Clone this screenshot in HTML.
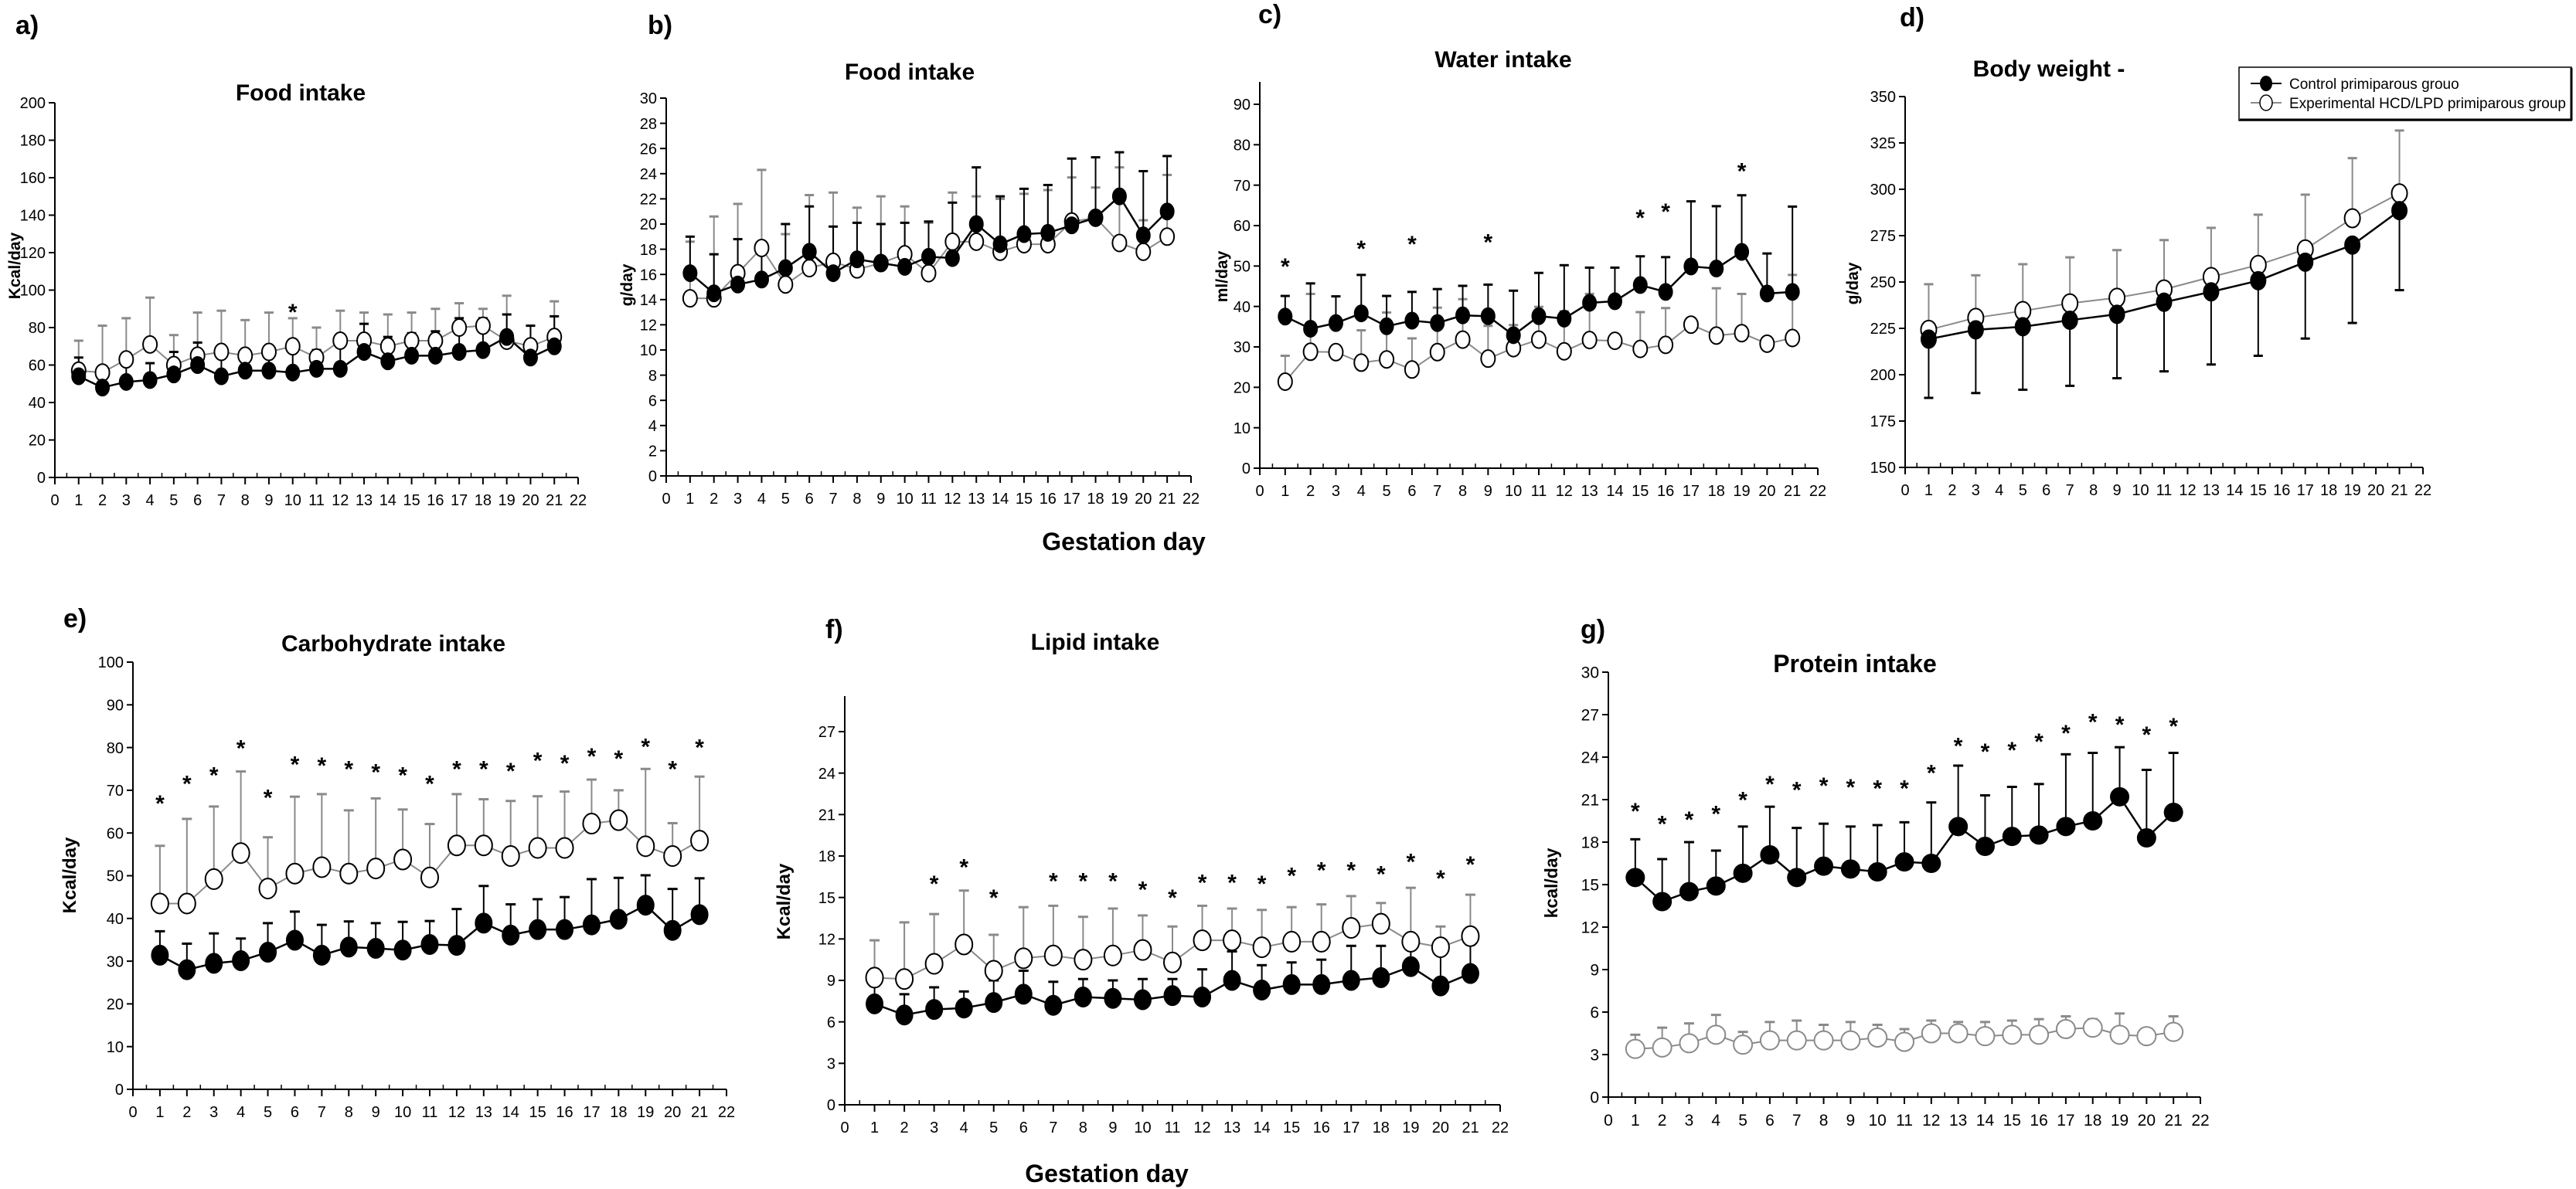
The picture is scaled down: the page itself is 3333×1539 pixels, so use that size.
<!DOCTYPE html>
<html><head><meta charset="utf-8"><title>Gestation intake charts</title>
<style>
html,body{margin:0;padding:0;background:#fff;}
svg{display:block;}
text{font-family:"Liberation Sans Narrow","Liberation Sans",sans-serif;fill:#000;}
.wide{font-family:"Liberation Sans",sans-serif;}
</style></head>
<body>
<svg id="fig" width="3333" height="1539" viewBox="0 0 3333 1539" xmlns="http://www.w3.org/2000/svg"></svg>
<script>
// ---------- data ----------
const days = [1,2,3,4,5,6,7,8,9,10,11,12,13,14,15,16,17,18,19,20,21];
const daysOdd = [1,3,5,7,9,11,13,15,17,19,21];
const xTicks = [0,1,2,3,4,5,6,7,8,9,10,11,12,13,14,15,16,17,18,19,20,21,22];

// a) Food intake kcal
const aTicks = [0,20,40,60,80,100,120,140,160,180,200];
const aCtrl = [54,48,51,52,55,60,54,57,57,56,58,58,67,62,65,65,67,68,75,64,70];
const aCtrlErr = [64,59,62,61,67,72,67,68,67,68,68,73,82,75,77,78,85,85,87,81,86];
const aExp = [57,56,63,71,60,65,67,65,67,70,64,73,73,70,73,73,80,81,73,70,75];
const aExpErr = [73,81,85,96,76,88,89,84,88,85,80,89,88,87,88,90,93,90,97,81,94];
const aStarDays = [10];
const aStarY = [90];

// b) Food intake g
const bTicks = [0,2,4,6,8,10,12,14,16,18,20,22,24,26,28,30];
const bCtrl = [16.1,14.5,15.2,15.6,16.5,17.8,16.1,17.2,16.9,16.6,17.4,17.3,20,18.4,19.2,19.3,19.9,20.5,22.2,19.1,21];
const bCtrlErr = [19,17.6,18.8,18.1,20,21.4,19.8,20.1,20,20.1,20.2,21.7,24.5,22.2,22.8,23.1,25.2,25.3,25.7,24.2,25.4];
const bExp = [14.1,14.1,16.1,18.1,15.2,16.5,17,16.4,16.9,17.6,16.1,18.6,18.6,17.8,18.4,18.4,20.2,20.5,18.5,17.8,19];
const bExpErr = [18.6,20.6,21.6,24.3,19.2,22.3,22.5,21.3,22.2,21.4,20.1,22.5,22.2,22,22.4,22.7,23.7,22.9,24.5,20.3,23.9];

// c) Water intake
const cTicks = [0,10,20,30,40,50,60,70,80,90];
const cCtrl = [37.5,34.5,35.9,38.3,35.1,36.5,35.9,37.8,37.6,32.9,37.6,37,40.9,41.3,45.3,43.6,49.9,49.4,53.5,43.2,43.6];
const cCtrlErr = [42.6,45.7,42.5,47.8,42.6,43.6,44.3,45.1,45.4,43.9,48.3,50.2,49.6,49.6,52.4,52.2,66,64.8,67.5,53.1,64.7];
const cExp = [21.4,28.8,28.7,26.1,26.9,24.4,28.7,31.8,27.1,29.7,31.8,28.9,31.7,31.5,29.5,30.5,35.5,32.8,33.4,30.8,32.2];
const cExpErr = [27.8,43.1,28.7,34.1,38.5,32.1,39.7,41.8,35.2,35.4,39.9,38.8,43.1,31.5,38.6,39.6,35.5,44.5,43.1,30.8,47.8];
const cStarDays = [1,4,6,9,15,16,19];
const cStarY = [50.6,55,56.2,56.7,62.7,64.2,74.2];

// d) Body weight
const dTicks = [150,175,200,225,250,275,300,325,350];
const dCtrl = [219.2,224.2,225.9,229.4,232.6,239.1,244.7,250.7,260.7,269.9,288.5];
const dCtrlErr = [187.5,190.1,191.9,194,198.1,201.8,205.5,210.2,219.5,227.9,245.6];
const dExp = [224.2,230.7,234.4,238.5,241.5,246,252.7,259.2,267.6,284.4,297.8];
const dExpErr = [248.8,253.6,259.6,263.3,267.2,272.6,279.2,286.3,297.1,316.8,331.7];

// e) Carbohydrate intake
const eTicks = [0,10,20,30,40,50,60,70,80,90,100];
const eCtrl = [31.4,28,29.5,30.1,32.1,34.9,31.4,33.3,33,32.6,33.9,33.7,38.9,36.1,37.4,37.4,38.5,39.8,43.1,37.2,40.9];
const eCtrlErr = [37,34.1,36.5,35.3,38.9,41.6,38.5,39.3,38.9,39.2,39.4,42.2,47.6,43.3,44.5,45,49.2,49.5,50.1,46.9,49.4];
const eExp = [43.5,43.5,49.2,55.3,47,50.5,52,50.5,51.7,53.8,49.6,57.1,57.1,54.6,56.5,56.5,62.2,63,56.9,54.6,58.2];
const eExpErr = [57,63.3,66.2,74.4,59,68.5,69.1,65.3,68.1,65.5,62.1,69.1,67.9,67.5,68.6,69.7,72.5,70,75,62.3,73.2];
const eStarDays = [1,2,3,4,5,6,7,8,9,10,11,12,13,14,15,16,17,18,19,20,21];
const eStarY = [67.6,72.2,74.2,80.6,69,76.8,76.5,75.7,75,74.2,72.2,75.7,75.7,75.2,77.7,77,78.7,78.1,80.9,75.7,80.7];

// f) Lipid intake
const fTicks = [0,3,6,9,12,15,18,21,24,27];
const fCtrl = [7.3,6.5,6.9,7,7.4,8,7.2,7.8,7.7,7.6,7.9,7.8,9,8.3,8.7,8.7,9,9.2,10,8.6,9.5];
const fCtrlErr = [8.6,8,8.5,8.2,9,9.7,8.9,9.1,9,9.1,9.1,9.8,11.1,10.1,10.3,10.5,11.5,11.5,11.9,11,11.6];
const fExp = [9.2,9.1,10.2,11.6,9.7,10.6,10.8,10.5,10.8,11.2,10.3,11.9,11.9,11.4,11.8,11.8,12.8,13.1,11.8,11.4,12.2];
const fExpErr = [11.9,13.2,13.8,15.5,12.3,14.3,14.4,13.6,14.2,13.7,12.9,14.4,14.2,14.1,14.3,14.5,15.1,14.6,15.7,12.9,15.2];
const fStarDays = [3,4,5,7,8,9,10,11,12,13,14,15,16,17,18,19,20,21];
const fStarY = [16.2,17.4,15.2,16.4,16.4,16.4,15.8,15.2,16.3,16.3,16.2,16.8,17.2,17.2,16.9,17.8,16.6,17.6];

// g) Protein intake
const gTicks = [0,3,6,9,12,15,18,21,24,27,30];
const gCtrl = [15.5,13.8,14.5,14.9,15.8,17.1,15.5,16.3,16.1,15.9,16.6,16.5,19.1,17.7,18.4,18.5,19.1,19.5,21.2,18.3,20.1];
const gCtrlErr = [18.2,16.8,18,17.4,19.1,20.5,19,19.3,19.1,19.2,19.4,20.8,23.4,21.3,21.9,22.1,24.2,24.3,24.7,23.1,24.3];
const gExp = [3.4,3.5,3.8,4.4,3.7,4,4,4,4,4.2,3.9,4.5,4.5,4.3,4.4,4.4,4.8,4.9,4.4,4.3,4.6];
const gExpErr = [4.4,4.9,5.2,5.8,4.6,5.3,5.4,5.1,5.3,5.1,4.8,5.4,5.3,5.3,5.4,5.5,5.7,5.5,5.9,4.8,5.7];
const gStarDays = [1,2,3,4,5,6,7,8,9,10,11,12,13,14,15,16,17,18,19,20,21];
const gStarY = [20.4,19.5,19.8,20.2,21.2,22.3,21.9,22.2,22.1,22,22,23.1,25,24.6,24.7,25.3,25.9,26.7,26.5,25.8,26.4];

// ---------- drawing ----------
const NS = 'http://www.w3.org/2000/svg';
const svg = document.getElementById('fig');
function mk(tag, attrs, parent){
  const e = document.createElementNS(NS, tag);
  for (const k in attrs) e.setAttribute(k, attrs[k]);
  (parent||svg).appendChild(e);
  return e;
}
function txt(str, x, y, size, parent, extra){
  const t = mk('text', Object.assign({x:x, y:y, 'font-size':size}, extra||{}), parent);
  t.textContent = str;
  return t;
}

function drawPanel(p){
  const g = mk('g', {});
  
  
  const xs = d => p.x0 + (p.x1 - p.x0) * d / 22;
  const ys = v => p.yb + (p.yt - p.yb) * (v - p.vmin) / (p.vmax - p.vmin);
  const cls = p.wide ? 'wide' : '';
  const L = txt(p.letter, p.letterX, p.letterY, 34, g, {'font-weight':'bold', 'class':cls});
  
  
  const T = txt(p.title, p.titleX, p.titleY, p.titleSize, g, {'font-weight':'bold','text-anchor':'middle','class':cls});
  
  
  const Y = txt(p.ylabel, 0, 0, p.ylabelSize, g, {'font-weight':'bold','text-anchor':'middle','class':'wide','transform':'translate('+p.ylabelX+','+p.ylabelY+') rotate(-90)'});
  
  
  const axTop = p.axisTop !== undefined ? p.axisTop : p.yt;
  const ya = mk('line', {x1:p.x0, y1:axTop, x2:p.x0, y2:p.yb, stroke:'#000', 'stroke-width':2}, g);
  
  
  const xa = mk('line', {x1:p.x0, y1:p.yb, x2:p.x1, y2:p.yb, stroke:'#000', 'stroke-width':2}, g);
  
  
  p.yTicks.forEach(v => {
    mk('line', {x1:p.x0-8, y1:ys(v), x2:p.x0, y2:ys(v), stroke:'#000','stroke-width':2}, g);
    const t = txt(String(v), p.x0-12, ys(v)+p.tickSize*0.36, p.tickSize, g, {'text-anchor':'end','class':cls});
    
    
  });
  xTicks.forEach(d => {
    mk('line', {x1:xs(d), y1:p.yb, x2:xs(d), y2:p.yb+9, stroke:'#000','stroke-width':2}, g);
    if (d < 22) mk('line', {x1:xs(d+0.5), y1:p.yb-6, x2:xs(d+0.5), y2:p.yb, stroke:'#000','stroke-width':1.5}, g);
    const t = txt(String(d), xs(d), p.yb + p.tickSize + 16, p.tickSize, g, {'text-anchor':'middle','class':cls});
    
    
  });
  const expCol = '#8a8a8a';
  const expStroke = p.expStroke || '#000';
  const ptsE = p.days.map((d,i) => xs(d)+','+ys(p.exp[i])).join(' ');
  const le = mk('polyline', {points:ptsE, fill:'none', stroke:expCol, 'stroke-width':2}, g);
  
  
  const ptsC = p.days.map((d,i) => xs(d)+','+ys(p.ctrl[i])).join(' ');
  const lc = mk('polyline', {points:ptsC, fill:'none', stroke:'#000', 'stroke-width':2.5}, g);
  
  
  function ebar(d, v, e, col, name){
    const x = xs(d);
    const eb = mk('g', {}, g);
    
    
    mk('line', {x1:x, y1:ys(v), x2:x, y2:ys(e), stroke:col, 'stroke-width':2}, eb);
    mk('line', {x1:x-p.cap/2, y1:ys(e), x2:x+p.cap/2, y2:ys(e), stroke:col, 'stroke-width':3}, eb);
  }
  p.days.forEach((d,i) => ebar(d, p.exp[i], p.expErr[i], p.expBarCol || expCol, p.key + '-experimental-error-bar'));
  p.days.forEach((d,i) => ebar(d, p.ctrl[i], p.ctrlErr[i], '#000', p.key + '-control-error-bar'));
  p.days.forEach((d,i) => {
    const m = mk('ellipse', {cx:xs(d), cy:ys(p.exp[i]), rx:p.rx, ry:p.ry, fill:'#fff', stroke:expStroke, 'stroke-width':2}, g);
    
    
  });
  p.days.forEach((d,i) => {
    const m = mk('ellipse', {cx:xs(d), cy:ys(p.ctrl[i]), rx:p.rx, ry:p.ry, fill:'#000', stroke:'#000', 'stroke-width':1}, g);
    
    
  });
  (p.starDays||[]).forEach((d,i) => {
    const s = txt('*', xs(d), ys(p.starY[i]) + 14, p.starSize || 30, g, {'text-anchor':'middle','class':'wide','font-weight':'bold'});
    
    
  });
}

drawPanel({key:'a', letter:'a)', letterX:20, letterY:44, title:'Food intake', titleX:389, titleY:130, titleSize:30,
  ylabel:'Kcal/day', ylabelX:26, ylabelY:344, ylabelSize:21,
  x0:71, x1:748, yb:618, yt:133, vmin:0, vmax:200, yTicks:aTicks, tickSize:20,
  days:days, ctrl:aCtrl, ctrlErr:aCtrlErr, exp:aExp, expErr:aExpErr, starDays:aStarDays, starY:aStarY,
  rx:9, ry:11, cap:12});
drawPanel({key:'b', letter:'b)', letterX:838, letterY:44, title:'Food intake', titleX:1177, titleY:103, titleSize:30,
  ylabel:'g/day', ylabelX:818, ylabelY:369, ylabelSize:21,
  x0:862, x1:1541, yb:616, yt:127, vmin:0, vmax:30, yTicks:bTicks, tickSize:20,
  days:days, ctrl:bCtrl, ctrlErr:bCtrlErr, exp:bExp, expErr:bExpErr,
  rx:9, ry:11, cap:12});
drawPanel({key:'c', letter:'c)', letterX:1628, letterY:30, title:'Water intake', titleX:1945, titleY:87, titleSize:30,
  ylabel:'ml/day', ylabelX:1588, ylabelY:358, ylabelSize:21,
  x0:1630, x1:2352, yb:606, yt:135, vmin:0, vmax:90, yTicks:cTicks, tickSize:20, axisTop:106,
  days:days, ctrl:cCtrl, ctrlErr:cCtrlErr, exp:cExp, expErr:cExpErr, starDays:cStarDays, starY:cStarY,
  rx:9, ry:11, cap:12});
drawPanel({key:'d', letter:'d)', letterX:2458, letterY:34, title:'Body weight -', titleX:2651, titleY:99, titleSize:30,
  ylabel:'g/day', ylabelX:2404, ylabelY:367, ylabelSize:21,
  x0:2465, x1:3135, yb:605, yt:125, vmin:150, vmax:350, yTicks:dTicks, tickSize:20,
  days:daysOdd, ctrl:dCtrl, ctrlErr:dCtrlErr, exp:dExp, expErr:dExpErr,
  rx:10, ry:12, cap:12});

drawPanel({key:'e', letter:'e)', letterX:82, letterY:812, title:'Carbohydrate intake', titleX:509, titleY:843, titleSize:30,
  ylabel:'Kcal/day', ylabelX:98, ylabelY:1133, ylabelSize:24,
  x0:172, x1:940, yb:1410, yt:857, vmin:0, vmax:100, yTicks:eTicks, tickSize:20,
  days:days, ctrl:eCtrl, ctrlErr:eCtrlErr, exp:eExp, expErr:eExpErr, starDays:eStarDays, starY:eStarY,
  rx:11, ry:13, cap:13});
drawPanel({key:'f', letter:'f)', letterX:1068, letterY:826, title:'Lipid intake', titleX:1417, titleY:841, titleSize:30,
  ylabel:'Kcal/day', ylabelX:1022, ylabelY:1167, ylabelSize:24,
  x0:1093, x1:1941, yb:1430, yt:947, vmin:0, vmax:27, yTicks:fTicks, tickSize:20, axisTop:901,
  days:days, ctrl:fCtrl, ctrlErr:fCtrlErr, exp:fExp, expErr:fExpErr, starDays:fStarDays, starY:fStarY,
  rx:11, ry:13, cap:13});
drawPanel({key:'g', letter:'g)', letterX:2045, letterY:826, title:'Protein intake', titleX:2400, titleY:870, titleSize:32,
  ylabel:'kcal/day', ylabelX:2015, ylabelY:1143, ylabelSize:23, wide:true,
  x0:2081, x1:2847, yb:1420, yt:870, vmin:0, vmax:30, yTicks:gTicks, tickSize:21,
  days:days, ctrl:gCtrl, ctrlErr:gCtrlErr, exp:gExp, expErr:gExpErr, starDays:gStarDays, starY:gStarY,
  rx:12, ry:12, cap:13, expStroke:'#8a8a8a', expBarCol:'#8a8a8a'});

const gx1 = txt('Gestation day', 1454, 712, 32, svg, {'font-weight':'bold','text-anchor':'middle'});


const gx2 = txt('Gestation day', 1432, 1530, 32, svg, {'font-weight':'bold','text-anchor':'middle'});



const lg = mk('g', {});


mk('rect', {x:2897, y:87, width:430, height:69, fill:'#fff', stroke:'#000', 'stroke-width':1.5}, lg);
mk('line', {x1:2898, y1:155, x2:3328, y2:155, stroke:'#000', 'stroke-width':3}, lg);
mk('line', {x1:3327, y1:88, x2:3327, y2:156, stroke:'#000', 'stroke-width':3}, lg);
const le1 = mk('g', {}, lg);


mk('line', {x1:2912, y1:108, x2:2952, y2:108, stroke:'#000', 'stroke-width':2}, le1);
mk('ellipse', {cx:2932, cy:108, rx:8, ry:10, fill:'#000'}, le1);
txt('Control primiparous grouo', 2962, 115, 19, le1);
const le2 = mk('g', {}, lg);


mk('line', {x1:2912, y1:133, x2:2952, y2:133, stroke:'#8a8a8a', 'stroke-width':2}, le2);
mk('ellipse', {cx:2932, cy:133, rx:8, ry:10, fill:'#fff', stroke:'#000', 'stroke-width':1.5}, le2);
txt('Experimental HCD/LPD primiparous group', 2962, 140, 19, le2);
</script>
</body></html>
